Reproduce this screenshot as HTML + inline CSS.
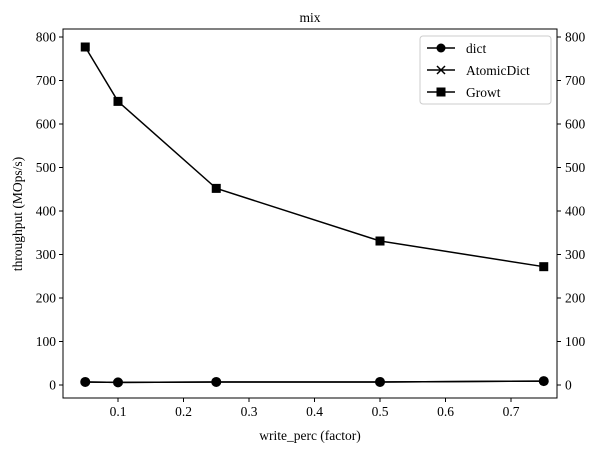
<!DOCTYPE html>
<html><head><meta charset="utf-8"><style>
body{margin:0;background:#fff;}
svg text{font-family:"Liberation Serif",serif;font-size:13.5px;fill:#000;}
</style></head><body>
<svg id="c" width="602" height="454" xmlns="http://www.w3.org/2000/svg">
<text x="310" y="22" text-anchor="middle">mix</text>
<rect x="63" y="29" width="494" height="369" fill="none" stroke="#000" stroke-width="1"/>
<g id="xt"></g><g id="yt"></g><g id="series"></g>
<text x="310" y="440" text-anchor="middle">write_perc (factor)</text>
<text transform="translate(22,214) rotate(-90)" text-anchor="middle">throughput (MOps/s)</text>
<g>
<rect x="420" y="36" width="131" height="68" rx="3" fill="#fff" stroke="#ccc"/>
<g><line x1="427" y1="48" x2="455" y2="48" stroke="#000" stroke-width="1.5"/><circle cx="441" cy="48" r="4.5"/><text x="466" y="53">dict</text></g>
<g><line x1="427" y1="70" x2="455" y2="70" stroke="#000" stroke-width="1.5"/><path d="M437 66 L445 74 M445 66 L437 74" stroke="#000" stroke-width="1.5"/><text x="466" y="75">AtomicDict</text></g>
<g><line x1="427" y1="92" x2="455" y2="92" stroke="#000" stroke-width="1.5"/><rect x="436.5" y="87.5" width="9" height="9"/><text x="466" y="97">Growt</text></g>
</g>
</svg>
<script>
const xs=[0.05,0.1,0.25,0.5,0.75];
const dictVals=[7,6,7,7,9];
const atomicVals=[7,6,7,7,9];
const growtVals=[777,652,452,331,272];
const xTicks=[0.1,0.2,0.3,0.4,0.5,0.6,0.7];
const yTicks=[0,100,200,300,400,500,600,700,800];
const NS="http://www.w3.org/2000/svg";
const X=v=>118+(v-0.1)*655;
const Y=v=>385-v*0.435;
function mk(t,a,p){const e=document.createElementNS(NS,t);for(const k in a)e.setAttribute(k,a[k]);p.appendChild(e);return e;}
const xt=document.getElementById('xt'),yt=document.getElementById('yt'),sg=document.getElementById('series');
xTicks.forEach(v=>{const g=mk('g',{},xt);


mk('line',{x1:X(v),x2:X(v),y1:398,y2:402,stroke:'#000'},g);
const t=mk('text',{x:X(v),y:416,'text-anchor':'middle'},g);t.textContent=v.toFixed(1);});
yTicks.forEach(v=>{const g=mk('g',{},yt);


mk('line',{x1:59,x2:63,y1:Y(v),y2:Y(v),stroke:'#000'},g);
mk('line',{x1:557,x2:561,y1:Y(v),y2:Y(v),stroke:'#000'},g);
let t=mk('text',{x:56,y:Y(v)+4.5,'text-anchor':'end'},g);t.textContent=v;
t=mk('text',{x:565,y:Y(v)+4.5},g);t.textContent=v;});
function line(vals,name,marker){const g=mk('g',{},sg);


mk('polyline',{points:xs.map((x,i)=>X(x)+','+Y(vals[i])).join(' '),fill:'none',stroke:'#000','stroke-width':1.5},g);
xs.forEach((x,i)=>{const cx=X(x),cy=Y(vals[i]);
if(marker==='o')mk('circle',{cx,cy,r:5},g);
else if(marker==='s')mk('rect',{x:cx-4.5,y:cy-4.5,width:9,height:9},g);
else mk('path',{d:`M${cx-3} ${cy-3}L${cx+3} ${cy+3}M${cx+3} ${cy-3}L${cx-3} ${cy+3}`,stroke:'#000','stroke-width':1.2},g);});}
line(atomicVals,'series-atomicdict','x');
line(dictVals,'series-dict','o');
line(growtVals,'series-growt','s');
</script>
</body></html>
